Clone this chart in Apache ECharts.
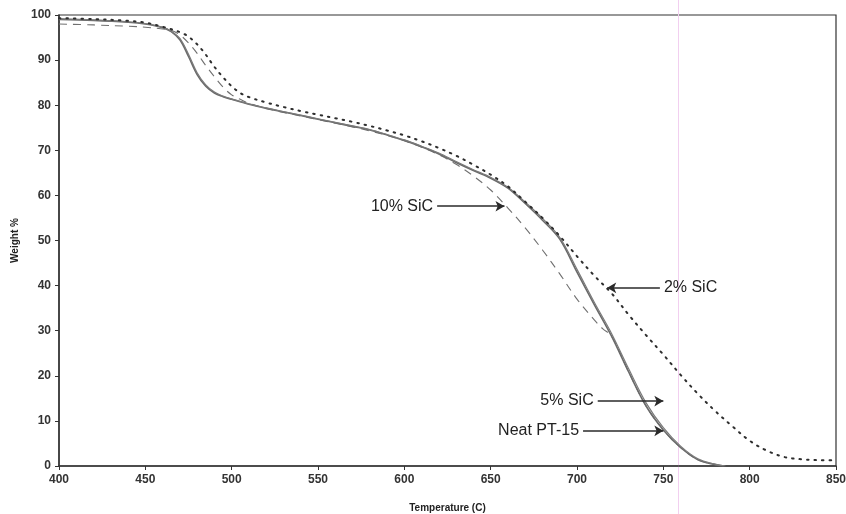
<!DOCTYPE html>
<html>
<head>
<meta charset="utf-8">
<title>TGA - Weight % vs Temperature</title>
<script src="https://cdn.jsdelivr.net/npm/echarts@6/dist/echarts.min.js"></script>
<style>
  html, body { margin: 0; padding: 0; background: #fff; }
  #chart { width: 846px; height: 514px; }
</style>
</head>
<body>
<div id="chart"></div>
<script>
// Thermogravimetric curves: weight remaining (%) against temperature (C)
var xTicks = [400, 450, 500, 550, 600, 650, 700, 750, 800, 850];
var yTicks = [0, 10, 20, 30, 40, 50, 60, 70, 80, 90, 100];

// Neat PT-15 (solid)
var tNeat = [400, 420, 440, 450, 460, 465, 470, 475, 480, 485, 490, 495, 500, 510, 520, 530, 540, 550, 560, 570, 580, 590, 600, 610, 620, 630, 640, 650, 660, 670, 680, 690, 700, 710, 720, 730, 740, 750, 760, 770, 780, 785];
var wNeat = [99.0, 98.8, 98.4, 98.0, 97.2, 96.3, 94.5, 90.8, 86.8, 84.2, 82.7, 81.9, 81.3, 80.2, 79.3, 78.5, 77.7, 76.9, 76.1, 75.3, 74.5, 73.4, 72.2, 70.8, 69.2, 67.3, 65.5, 63.8, 61.6, 58.2, 54.5, 50.3, 43.0, 35.8, 28.8, 20.8, 13.3, 8.0, 4.1, 1.4, 0.3, 0];

// 5% SiC (solid, nearly coincident with the neat resin)
var t5 = [400, 420, 440, 450, 460, 465, 470, 475, 480, 485, 490, 495, 500, 510, 520, 530, 540, 550, 560, 570, 580, 590, 600, 610, 620, 630, 640, 650, 660, 670, 680, 690, 700, 710, 720, 730, 740, 750, 760, 770, 780, 786];
var w5 = [99.2, 98.9, 98.5, 98.1, 97.3, 96.4, 94.8, 91.3, 87.2, 84.5, 82.9, 82.0, 81.4, 80.3, 79.4, 78.6, 77.8, 77.0, 76.2, 75.4, 74.6, 73.5, 72.3, 70.9, 69.4, 67.5, 65.7, 64.0, 61.8, 58.5, 54.9, 50.7, 43.6, 36.3, 29.4, 21.5, 14.0, 8.5, 4.4, 1.6, 0.4, 0];

// 10% SiC (dashed)
var t10 = [400, 420, 440, 450, 460, 465, 470, 475, 480, 485, 490, 495, 500, 505, 510, 520, 530, 540, 550, 560, 570, 580, 590, 600, 610, 620, 630, 640, 650, 660, 670, 680, 690, 700, 710, 715, 720, 730, 740, 750, 760, 770, 780, 785];
var w10 = [98.0, 97.8, 97.5, 97.3, 96.9, 96.6, 95.6, 93.8, 91.5, 88.8, 86.3, 84.0, 82.3, 81.3, 80.4, 79.3, 78.4, 77.6, 76.8, 76.0, 75.2, 74.3, 73.3, 72.1, 70.7, 69.0, 66.9, 64.3, 61.2, 57.2, 52.8, 47.9, 42.6, 37.0, 32.4, 30.4, 28.8, 20.8, 13.3, 8.0, 4.1, 1.4, 0.3, 0];

// 2% SiC (dotted)
var t2 = [400, 420, 440, 450, 460, 470, 475, 480, 485, 490, 495, 500, 505, 510, 520, 530, 540, 550, 560, 570, 580, 590, 600, 610, 620, 630, 640, 650, 660, 670, 680, 690, 700, 710, 720, 730, 740, 750, 760, 770, 780, 790, 800, 810, 820, 830, 840, 850];
var w2 = [99.3, 99.1, 98.7, 98.3, 97.4, 96.2, 95.2, 93.5, 91.2, 88.5, 86.2, 84.2, 82.7, 81.8, 80.6, 79.6, 78.7, 77.9, 77.1, 76.3, 75.4, 74.4, 73.3, 72.0, 70.5, 68.8, 66.8, 64.6, 62.0, 58.6, 55.0, 51.0, 46.5, 42.2, 38.3, 33.5, 29.0, 24.7, 20.2, 16.0, 12.2, 8.8, 5.6, 3.4, 2.0, 1.5, 1.3, 1.3];

// Callout labels and arrow endpoints, in data units [temperature, weight]
var labels = ['10% SiC', '2% SiC', '5% SiC', 'Neat PT-15'];
var arrowFrom = [[619, 57.6], [748, 39.5], [712, 14.4], [703.5, 7.8]];
var arrowTo = [[658, 57.6], [717.5, 39.5], [750, 14.4], [750, 7.8]];

function pairs(t, w) {
  return t.map(function (v, i) { return [v, w[i]]; });
}

var FONT = 'Arial, "Liberation Sans", sans-serif';

function callout(i) {
  return {
    silent: true,
    animation: false,
    symbol: ['none', 'arrow'],
    symbolSize: [8, 9],
    lineStyle: { color: '#2a2a2a', width: 1.5, type: 'solid' },
    label: {
      show: true,
      position: 'start',
      distance: 4,
      formatter: labels[i],
      color: '#222',
      fontSize: 16,
      fontFamily: FONT
    },
    emphasis: { disabled: true },
    data: [[{ coord: arrowFrom[i] }, { coord: arrowTo[i] }]]
  };
}

var chart = echarts.init(document.getElementById('chart'), null, { renderer: 'canvas' });

chart.setOption({
  animation: false,
  backgroundColor: '#ffffff',
  grid: {
    left: 59, right: 10, top: 15, bottom: 48,
    outerBoundsMode: 'none',
    containLabel: false,
    show: true, borderColor: '#333', borderWidth: 1.2, backgroundColor: 'transparent'
  },
  xAxis: {
    type: 'value',
    min: xTicks[0], max: xTicks[xTicks.length - 1], interval: 50,
    name: 'Temperature (C)',
    nameLocation: 'middle', nameGap: 37,
    nameTextStyle: { fontSize: 10, fontWeight: 'bold', color: '#222', fontFamily: FONT },
    axisLine: { show: true, lineStyle: { color: '#333', width: 1.5 } },
    axisTick: { show: true, length: 4, lineStyle: { color: '#333' } },
    axisLabel: { fontSize: 12, fontWeight: 'bold', color: '#333', fontFamily: FONT, margin: 8 },
    splitLine: { show: false }
  },
  yAxis: {
    type: 'value',
    min: yTicks[0], max: yTicks[yTicks.length - 1], interval: 10,
    name: 'Weight %',
    nameLocation: 'middle', nameGap: 38, nameRotate: 90,
    nameTextStyle: { fontSize: 10, fontWeight: 'bold', color: '#222', fontFamily: FONT },
    axisLine: { show: true, lineStyle: { color: '#333', width: 1.5 } },
    axisTick: { show: true, length: 4, lineStyle: { color: '#333' } },
    axisLabel: { fontSize: 12, fontWeight: 'bold', color: '#333', fontFamily: FONT, margin: 8 },
    splitLine: { show: false }
  },
  series: [
    {
      name: 'Neat PT-15', type: 'line', data: pairs(tNeat, wNeat),
      showSymbol: false, smooth: 0.35,
      lineStyle: { color: '#6a6a6a', width: 1.6 },
      markLine: callout(3), z: 3
    },
    {
      name: '5% SiC', type: 'line', data: pairs(t5, w5),
      showSymbol: false, smooth: 0.35,
      lineStyle: { color: '#7a7a7a', width: 1.2 },
      markLine: callout(2), z: 3
    },
    {
      name: '10% SiC', type: 'line', data: pairs(t10, w10),
      showSymbol: false, smooth: 0.35,
      lineStyle: { color: '#707070', width: 1.1, type: [8, 6] },
      markLine: callout(0), z: 2
    },
    {
      name: '2% SiC', type: 'line', data: pairs(t2, w2),
      showSymbol: false, smooth: 0.35,
      lineStyle: { color: '#2e2e2e', width: 2, type: [1.5, 6], cap: 'round' },
      markLine: callout(1), z: 4
    }
  ],
  graphic: [
    {
      // faint vertical guide line
      type: 'line', silent: true, z: 0,
      shape: { x1: 678.5, y1: 0, x2: 678.5, y2: 514 },
      style: { stroke: '#f2cff0', lineWidth: 1 }
    }
  ]
});
</script>
</body>
</html>
